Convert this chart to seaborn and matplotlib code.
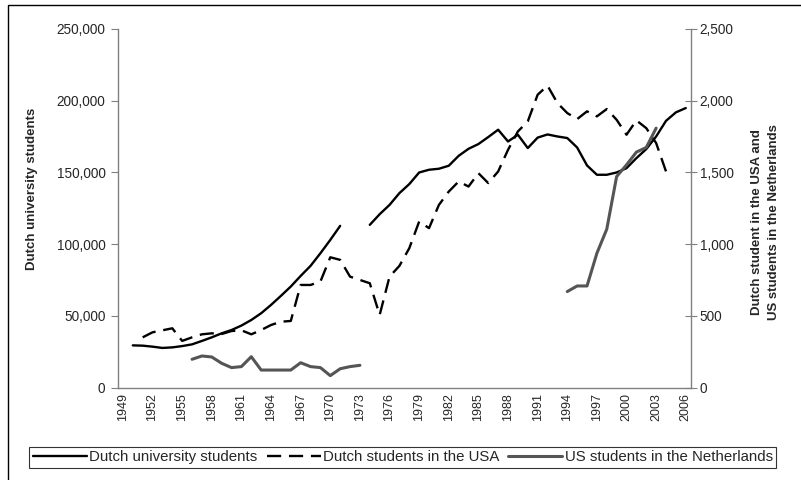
import numpy as np
import pandas as pd
import seaborn as sns
import matplotlib.pyplot as plt
from matplotlib.patches import Rectangle
from matplotlib.ticker import FuncFormatter

years = list(range(1949, 2007))

dutch_univ = [
    None, 29500, 29300, 28600, 27700, 28100, 29000, 30200, 32600, 35100,
    37900, 40200, 43300, 47200, 51900, 57700, 64000, 70500, 77900, 84900,
    93700, 103000, 112800, None, None, 113500, 120900, 127400, 135600, 141900,
    150000, 151900, 152600, 154700, 161600, 166500, 169800, 174700, 179800, 171600,
    176300, 167000, 174300, 176500, 175100, 174000, 167400, 154900, 148400, 148400,
    150000, 153000, 160000, 166300, 175100, 186000, 191900, 194900,
]

dutch_in_usa = [
    None, None, 351, 386, 400, 414, 326, 351, 372, 379,
    374, 395, 400, 372, 402, 437, 460, 465, 716, 716,
    740, 909, 891, 774, 751, 728, 507, 774, 849, 972,
    1158, 1112, 1274, 1367, 1437, 1402, 1495, 1426, 1507, 1658,
    1786, 1856, 2042, 2105, 1984, 1914, 1872, 1926, 1891, 1942,
    1867, 1763, 1863, 1809, 1705, 1507, None, None,
]

us_in_nl = [
    None, None, None, None, None, None, None, 198, 221, 214,
    170, 140, 147, 216, 123, 123, 123, 123, 174, 147,
    140, 84, 132, 147, 156, None, None, None, None, None,
    None, None, None, None, None, None, None, None, None, None,
    None, None, None, None, None, 670, 709, 709, 937, 1105,
    1472, 1553, 1642, 1674, 1809, None, None, None,
]

left_label = "Dutch university students"
right_label = "Dutch student in the USA and\nUS students in the Netherlands"


def series_frame(values):
    """long frame with a segment id so gaps in the data stay gaps"""
    df = pd.DataFrame({"year": years, "value": values}).dropna()
    df["pos"] = df["year"] - years[0]
    df["seg"] = (df["year"].diff() != 1).cumsum()
    return df


sns.set_style("white")
plt.rcParams["font.family"] = ["Liberation Sans", "DejaVu Sans"]

fig = plt.figure(figsize=(8.01, 4.80), dpi=100)
ax = fig.add_axes([0.1473, 0.1923, 0.7150, 0.7473])
ax2 = ax.twinx()

sns.lineplot(data=series_frame(dutch_univ), x="pos", y="value", units="seg",
             estimator=None, color="black", linewidth=1.7, ax=ax,
             label="Dutch university students")
sns.lineplot(data=series_frame(dutch_in_usa), x="pos", y="value", units="seg",
             estimator=None, color="black", linewidth=1.7,
             linestyle=(0, (6, 3.3)), ax=ax2,
             label="Dutch students in the USA")
sns.lineplot(data=series_frame(us_in_nl), x="pos", y="value", units="seg",
             estimator=None, color="#555555", linewidth=2.2, ax=ax2,
             label="US students in the Netherlands")

grey = "#808080"
ax.set_xlim(-0.5, len(years) - 0.5)
ax.set_ylim(0, 250000)
ax2.set_ylim(0, 2500)
ax.set_yticks(np.arange(0, 250001, 50000))
ax2.set_yticks(np.arange(0, 2501, 500))
ax.yaxis.set_major_formatter(FuncFormatter(lambda v, p: f"{v:,.0f}"))
ax2.yaxis.set_major_formatter(FuncFormatter(lambda v, p: f"{v:,.0f}"))

# ticks between the year categories, labels every third year
ax.set_xticks(np.arange(-0.5, len(years), 1))
ax.set_xticklabels([])
label_pos = list(range(0, len(years), 3))
ax.set_xticks(label_pos, minor=True)
ax.set_xticklabels([str(years[i]) for i in label_pos], minor=True,
                   rotation=90, fontsize=9)
ax.tick_params(axis="x", which="major", direction="out", length=4,
               width=0.8, color=grey)
ax.tick_params(axis="x", which="minor", length=0, pad=4)
ax.tick_params(axis="y", direction="out", length=5, width=0.8, color=grey,
               labelsize=9.8, pad=4)
ax2.tick_params(axis="y", direction="inout", length=9, width=0.8,
                color=grey, labelsize=9.8, pad=2)

ax.set_xlabel("")
ax.set_ylabel(left_label, fontsize=9.5, fontweight="bold")
ax.yaxis.set_label_coords(-0.14, 0.554)
ax2.set_ylabel(right_label, fontsize=9.5, fontweight="bold", linespacing=1.6)
ax2.yaxis.set_label_coords(1.105, 0.462)

for a in (ax, ax2):
    a.spines["top"].set_visible(False)
    for s in ("left", "right", "bottom"):
        a.spines[s].set_color(grey)
        a.spines[s].set_linewidth(1.0)
ax.spines["right"].set_visible(False)
ax2.spines["left"].set_visible(False)
ax2.spines["bottom"].set_visible(False)

# one legend entry per series (segments share a label)
handles, labels = [], []
for a in (ax, ax2):
    for h, l in zip(*a.get_legend_handles_labels()):
        if l not in labels:
            handles.append(h)
            labels.append(l)
    a.get_legend().remove()
leg = fig.legend(handles, labels, loc="center", bbox_to_anchor=(0.503, 0.047),
                 ncol=3, fontsize=10.8, frameon=True, fancybox=False,
                 edgecolor="black", handlelength=3.6, handletextpad=0.15,
                 columnspacing=0.6, borderpad=0.25)
leg.get_frame().set_linewidth(0.8)

# chart-area border (left and top edges visible in the image)
fig.add_artist(Rectangle((8 / 801, -0.05), 1.0, 0.05 + 1 - 5 / 480,
                         transform=fig.transFigure, fill=False,
                         edgecolor="black", linewidth=1.0))

fig.savefig("out.png", dpi=100)
